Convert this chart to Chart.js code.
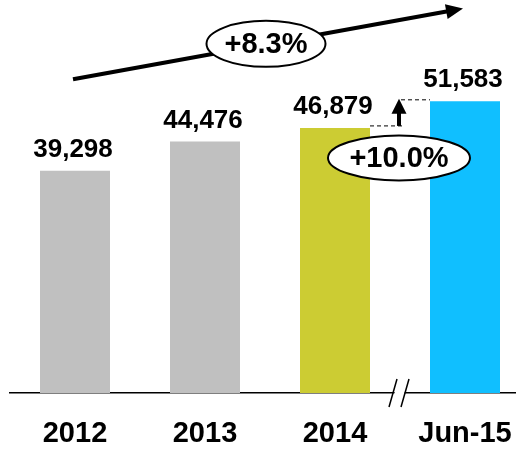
<!DOCTYPE html>
<html>
<head>
<meta charset="utf-8">
<script src="https://cdn.jsdelivr.net/npm/chart.js@4/dist/chart.umd.min.js"></script>
<style>
  html, body { margin: 0; padding: 0; background: #fff; overflow: hidden; }
  canvas { display: block; }
</style>
</head>
<body>
<canvas id="chart" width="530" height="454"></canvas>
<script>
"use strict";

const CATEGORIES = ["2012", "2013", "2014", "Jun-15"];
const VALUES = [39298, 44476, 46879, 51583];
const VALUE_LABELS = ["39,298", "44,476", "46,879", "51,583"];
const BAR_COLORS = ["#c0c0c0", "#c0c0c0", "#cccc33", "#10bfff"];
const TREND_LABEL = "+8.3%";
const STEP_LABEL = "+10.0%";
// trend arrow end levels, in axis units
const TREND_FROM = 55500;
const TREND_TO = 68000;

const FONT = "'Liberation Sans', Arial, sans-serif";

function ellipseLabel(ctx, cx, cy, rx, ry, text) {
  ctx.save();
  ctx.beginPath();
  ctx.ellipse(cx, cy, rx, ry, 0, 0, Math.PI * 2);
  ctx.fillStyle = "#fff";
  ctx.fill();
  ctx.lineWidth = 2;
  ctx.strokeStyle = "#000";
  ctx.stroke();
  ctx.fillStyle = "#000";
  ctx.font = `bold 29px ${FONT}`;
  ctx.textAlign = "center";
  ctx.textBaseline = "middle";
  ctx.fillText(text, cx, cy + 1);
  ctx.restore();
}

function arrowHead(ctx, x, y, angle, len, half) {
  ctx.save();
  ctx.translate(x, y);
  ctx.rotate(angle);
  ctx.beginPath();
  ctx.moveTo(0, 0);
  ctx.lineTo(-len, -half);
  ctx.lineTo(-len, half);
  ctx.closePath();
  ctx.fillStyle = "#000";
  ctx.fill();
  ctx.restore();
}

const annotations = {
  id: "annotations",
  afterDraw(chart) {
    const ctx = chart.ctx;
    const bars = chart.getDatasetMeta(0).data;
    const y = chart.scales.y;
    const base = chart.chartArea.bottom;

    // value labels
    ctx.save();
    ctx.fillStyle = "#000";
    ctx.font = `bold 26px ${FONT}`;
    ctx.textAlign = "center";
    ctx.textBaseline = "alphabetic";
    bars.forEach((b, i) => ctx.fillText(VALUE_LABELS[i], b.x - 2, b.y - 14));
    ctx.restore();

    // axis break between the last two bars
    const bx = (bars[2].x + bars[3].x) / 2 - 1;
    ctx.save();
    ctx.fillStyle = "#fff";
    ctx.beginPath();
    ctx.moveTo(bx - 8, base + 14);
    ctx.lineTo(bx - 1, base - 14);
    ctx.lineTo(bx + 9, base - 14);
    ctx.lineTo(bx + 2, base + 14);
    ctx.closePath();
    ctx.fill();
    ctx.strokeStyle = "#000";
    ctx.lineWidth = 1.5;
    ctx.beginPath();
    ctx.moveTo(bx - 10, base + 14);
    ctx.lineTo(bx - 2, base - 14);
    ctx.moveTo(bx + 2, base + 14);
    ctx.lineTo(bx + 10, base - 14);
    ctx.stroke();
    ctx.restore();

    // step annotation 2014 -> Jun-15
    const lowY = bars[2].y - 2;
    const highY = bars[3].y - 1.5;
    const ax = bx;
    ctx.save();
    ctx.strokeStyle = "#000";
    ctx.lineWidth = 1;
    ctx.setLineDash([4, 3]);
    ctx.beginPath();
    ctx.moveTo(bars[2].x + bars[2].width / 2, lowY);
    ctx.lineTo(ax + 5, lowY);
    ctx.moveTo(ax + 2, highY);
    ctx.lineTo(bars[3].x - bars[3].width / 2, highY);
    ctx.stroke();
    ctx.setLineDash([]);
    ctx.lineWidth = 4;
    ctx.beginPath();
    ctx.moveTo(ax, lowY);
    ctx.lineTo(ax, highY + 12);
    ctx.stroke();
    arrowHead(ctx, ax, highY - 1, -Math.PI / 2, 15, 7.5);
    ctx.restore();
    ellipseLabel(ctx, ax, lowY + 32, 71, 22.5, STEP_LABEL);

    // overall trend arrow
    const x0 = bars[0].x - 2, y0 = y.getPixelForValue(TREND_FROM);
    const x1 = bars[3].x - 2, y1 = y.getPixelForValue(TREND_TO);
    const ang = Math.atan2(y1 - y0, x1 - x0);
    ctx.save();
    ctx.strokeStyle = "#000";
    ctx.lineWidth = 4;
    ctx.beginPath();
    ctx.moveTo(x0, y0);
    ctx.lineTo(x1 - 14 * Math.cos(ang), y1 - 14 * Math.sin(ang));
    ctx.stroke();
    arrowHead(ctx, x1, y1, ang, 17, 7.5);
    ctx.restore();
    ellipseLabel(ctx, (x0 + x1) / 2 - 2, (y0 + y1) / 2, 59.5, 23, TREND_LABEL);
  },
};

new Chart(document.getElementById("chart"), {
  type: "bar",
  data: {
    labels: CATEGORIES,
    datasets: [{
      data: VALUES,
      backgroundColor: BAR_COLORS,
      borderWidth: 0,
      barPercentage: 1,
      categoryPercentage: 70 / 130,
    }],
  },
  options: {
    responsive: false,
    animation: false,
    layout: { padding: { left: 10, right: 0, top: 0, bottom: 0 } },
    scales: {
      y: { display: false, min: 0, max: 69500 },
      x: {
        grid: { display: false, drawTicks: false },
        border: { display: true, color: "#000", width: 1.5 },
        ticks: {
          color: "#000",
          font: { family: FONT, size: 29, weight: "bold" },
          padding: 24,
          maxRotation: 0,
        },
        afterFit(scale) {
          scale.height = 61;
          scale.paddingLeft = 0;
          scale.paddingRight = 0;
        },
      },
    },
    plugins: { legend: { display: false }, tooltip: { enabled: false } },
  },
  plugins: [annotations],
});
</script>
</body>
</html>
